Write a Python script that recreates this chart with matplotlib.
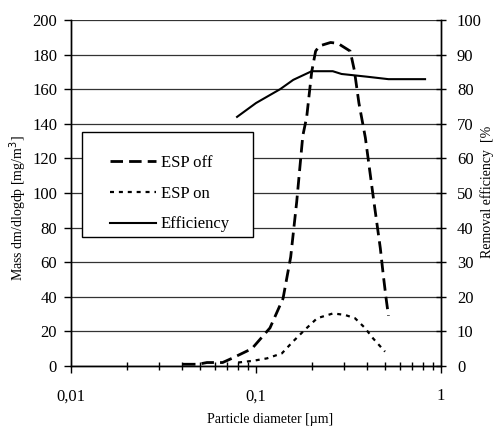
import matplotlib
matplotlib.use("Agg")
import matplotlib.pyplot as plt
from matplotlib.patches import Rectangle
from matplotlib.ticker import FixedLocator, LogLocator, NullFormatter

plt.rcParams['font.family'] = ['Liberation Serif', 'DejaVu Serif']

# ESP off (mass distribution, left axis)
off_d = [0.0403, 0.0486, 0.0543, 0.066, 0.074, 0.095, 0.119, 0.140, 0.154, 0.166, 0.179,
         0.188, 0.200, 0.210, 0.220, 0.253, 0.277, 0.323, 0.340, 0.360, 0.390, 0.430,
         0.470, 0.487, 0.505, 0.520]
off_v = [1, 1, 2, 2, 4.4, 10, 22, 39, 63, 95, 133,
         144, 170, 182, 185, 187, 186.5, 182, 171, 152, 132, 98,
         68, 53, 39, 29]

# ESP on (mass distribution, left axis)
on_d = [0.080, 0.0964, 0.1146, 0.138, 0.158, 0.184, 0.214, 0.261, 0.303, 0.343, 0.388, 0.429, 0.498]
on_v = [2, 3, 4.4, 7.3, 14, 21, 27.6, 30.4, 29.5, 27.6, 22, 16, 8.3]

# Removal efficiency (right axis, %)
eff_d = [0.079, 0.100, 0.135, 0.159, 0.200, 0.260, 0.290, 0.400, 0.520, 0.820]
eff_v = [72, 76, 80, 82.7, 85.2, 85.2, 84.4, 83.6, 82.9, 82.9]

left_ticks = [0, 20, 40, 60, 80, 100, 120, 140, 160, 180, 200]
right_ticks = [0, 10, 20, 30, 40, 50, 60, 70, 80, 90, 100]
x_ticks = [0.01, 0.1, 1]
x_ticklabels = ["0,01", "0,1", "1"]

fig = plt.figure(figsize=(5, 4.32), dpi=100)
ax = fig.add_axes([0.142, 0.1528, 0.74, 0.8009])
ax2 = ax.twinx()

ax.set_xscale('log')
ax.set_xlim(0.01, 1)
ax.set_ylim(0, 200)
ax2.set_ylim(0, 100)

l1, = ax.plot(off_d, off_v, color='black', lw=2.0, dashes=(4.5, 2.2), label='ESP off')
l2, = ax.plot(on_d, on_v, color='black', lw=1.6, dashes=(1.8, 2.2), label='ESP on')
l3, = ax2.plot(eff_d, eff_v, color='black', lw=1.5, label='Efficiency')

ax.yaxis.set_major_locator(FixedLocator(left_ticks))
ax2.yaxis.set_major_locator(FixedLocator(right_ticks))
ax.set_xticks(x_ticks)
ax.set_xticklabels(x_ticklabels)
ax.xaxis.set_minor_locator(LogLocator(base=10, subs=range(2, 10)))
ax.xaxis.set_minor_formatter(NullFormatter())

ax.grid(axis='y', color='#333333', lw=0.9)
ax.set_axisbelow(True)

for a in (ax, ax2):
    a.spines['top'].set_visible(False)
    for s in ('left', 'right', 'bottom'):
        a.spines[s].set_linewidth(1.0)
        a.spines[s].set_color('black')

ax.tick_params(axis='y', direction='out', length=5, width=1, labelsize=12, pad=5)
ax.tick_params(axis='x', which='major', direction='out', length=5, width=1, labelsize=12, pad=11)
ax.tick_params(axis='x', which='minor', direction='inout', length=6, width=1)
ax2.tick_params(axis='y', direction='inout', length=7, width=1, labelsize=12, pad=8)

# legend box
ax2.add_patch(Rectangle((0.0297, 0.373), 0.463, 0.303, transform=ax2.transAxes,
                        facecolor='white', edgecolor='black', lw=1.0, zorder=5))
leg = ax2.legend(handles=[l1, l2, l3], loc='center left', bbox_to_anchor=(0.105, 0.498),
                 frameon=False, fontsize=12, handlelength=2.75, handletextpad=0.3,
                 labelspacing=0.88, borderpad=0, borderaxespad=0)
leg.set_zorder(6)

fig.text(270 / 500, 1 - 420 / 432, "Particle diameter [µm]", ha='center', va='center', fontsize=10)
fig.text(18 / 500, 1 - 208 / 432, "Mass dm/dlogdp [mg/m$^3$]", ha='center', va='center',
         rotation=90, fontsize=10)
fig.text(487 / 500, 1 - 192 / 432, "Removal efficiency  [%", ha='center', va='center',
         rotation=90, fontsize=10)

fig.savefig("out.png", dpi=100)
